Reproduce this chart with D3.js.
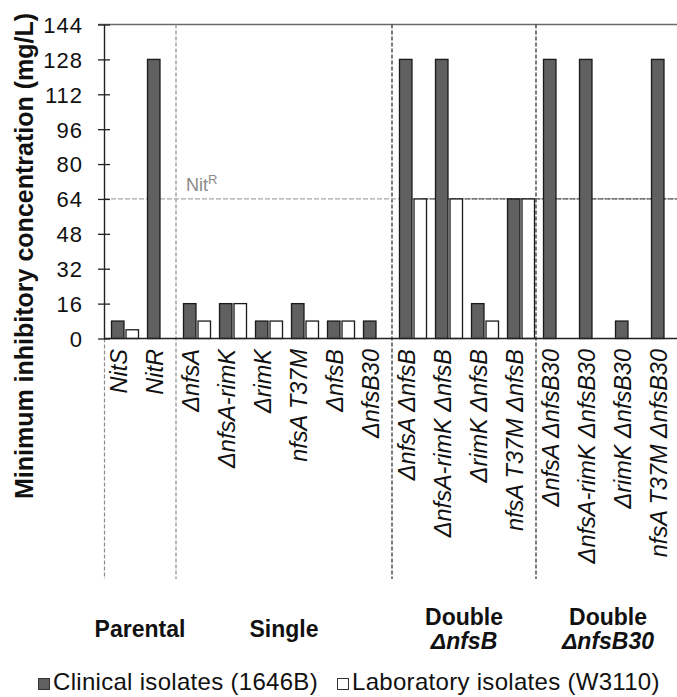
<!DOCTYPE html>
<html>
<head>
<meta charset="utf-8">
<script src="https://cdn.jsdelivr.net/npm/d3@7"></script>
<style>
  html, body { margin: 0; padding: 0; background: #fff; }
  svg { display: block; font-family: "Liberation Sans", Arial, sans-serif; }
</style>
</head>
<body>
<svg id="chart" width="677" height="697"></svg>
<script>
// Strains (one bar pair each)
const strains = [
  "NitS", "NitR",
  "ΔnfsA", "ΔnfsA-rimK", "ΔrimK", "nfsA T37M", "ΔnfsB", "ΔnfsB30",
  "ΔnfsA ΔnfsB", "ΔnfsA-rimK ΔnfsB", "ΔrimK ΔnfsB", "nfsA T37M ΔnfsB",
  "ΔnfsA ΔnfsB30", "ΔnfsA-rimK ΔnfsB30", "ΔrimK ΔnfsB30", "nfsA T37M ΔnfsB30"
];
// MIC values (mg/L)
const clinical = [8, 128, 16, 16, 8, 16, 8, 8, 128, 128, 16, 64, 128, 128, 8, 128];
const laboratory = [4, 0, 8, 16, 8, 8, 8, 0, 64, 64, 8, 64, 0, 0, 0, 0];
const seriesNames = ["Clinical isolates (1646B)", "Laboratory isolates (W3110)"];
// Strain groups: label lines and how many strains each covers
const groupLines = [["Parental"], ["Single"], ["Double", "ΔnfsB"], ["Double", "ΔnfsB30"]];
const groupSizes = [2, 6, 4, 4];
const yTicks = [0, 16, 32, 48, 64, 80, 96, 112, 128, 144];
const resistanceThreshold = 64;

const svg = d3.select("#chart");
const plotLeft = 104, plotRight = 680, plotTop = 24.5, plotBottom = 338.5, labelBottom = 579;

const x = d3.scaleBand().domain(strains).range([plotLeft, plotRight]).padding(0);
const xs = d3.scaleBand().domain(seriesNames).range([-10.5, 16.5]).paddingInner(0.14);
const y = d3.scaleLinear().domain([0, 144]).range([plotBottom, plotTop]);
const fills = ["#606060", "#ffffff"];

// top frame line
svg.append("line").attr("x1", plotLeft - 6).attr("x2", plotRight)
  .attr("y1", y(144)).attr("y2", y(144))
  .attr("stroke", "#6a6a6a").attr("stroke-width", 1.3);

// group separators
let acc = 0;
const sepX = [];
groupSizes.forEach((n, i) => {
  if (i > 0) sepX.push({ pos: x(strains[acc]), dark: i > 1 });
  acc += n;
});
sepX.forEach(s => {
  svg.append("line").attr("x1", s.pos).attr("x2", s.pos)
    .attr("y1", y(144)).attr("y2", labelBottom)
    .attr("stroke", s.dark ? "#222" : "#8c8c8c")
    .attr("stroke-width", 1.2)
    .attr("stroke-dasharray", "4,2");
});
// axis continuation below the plot
svg.append("line").attr("x1", plotLeft + 0.5).attr("x2", plotLeft + 0.5)
  .attr("y1", plotBottom).attr("y2", labelBottom)
  .attr("stroke", "#8c8c8c").attr("stroke-width", 1.2).attr("stroke-dasharray", "4,2");

// resistance threshold line
svg.append("line").attr("x1", plotLeft).attr("x2", plotRight)
  .attr("y1", y(resistanceThreshold)).attr("y2", y(resistanceThreshold))
  .attr("stroke", "#a8a8a8").attr("stroke-width", 1.2).attr("stroke-dasharray", "5,2");
svg.append("line").attr("x1", x(strains[8]) + 31).attr("x2", plotRight)
  .attr("y1", y(resistanceThreshold)).attr("y2", y(resistanceThreshold))
  .attr("stroke", "#555").attr("stroke-width", 1.2).attr("stroke-dasharray", "5,2");

const nit = svg.append("text").attr("x", 186).attr("y", 190.5)
  .attr("fill", "#8a8a8a").attr("font-size", 18);
nit.append("tspan").text("Nit");
nit.append("tspan").attr("font-size", 13).attr("dy", -7).text("R");

// bars
const rows = strains.map((s, i) => ({ s, vals: [clinical[i], laboratory[i]] }));
const g = svg.append("g");
rows.forEach(r => {
  r.vals.forEach((v, j) => {
    if (v <= 0) return;
    g.append("rect")
      .attr("x", x(r.s) + x.bandwidth() / 2 + xs(seriesNames[j]))
      .attr("y", y(v))
      .attr("width", xs.bandwidth())
      .attr("height", y(0) - y(v))
      .attr("fill", fills[j])
      .attr("stroke", "#1a1a1a").attr("stroke-width", 1.3);
  });
});

// x axis baseline
svg.append("line").attr("x1", plotLeft).attr("x2", plotRight)
  .attr("y1", plotBottom).attr("y2", plotBottom)
  .attr("stroke", "#222").attr("stroke-width", 1.4);

// y axis
const yAxis = d3.axisLeft(y).tickValues(yTicks).tickSize(6).tickSizeOuter(0).tickPadding(15);
const ya = svg.append("g").attr("transform", `translate(${plotLeft},0)`).call(yAxis);
ya.select(".domain").attr("stroke", "#222").attr("stroke-width", 1.4);
ya.selectAll(".tick line").attr("x2", -6).attr("x1", 6).attr("stroke", "#222").attr("stroke-width", 1.3);
ya.selectAll(".tick text").attr("font-size", 22).attr("fill", "#111")
  .attr("font-family", "Liberation Sans, Arial, sans-serif")
  .attr("letter-spacing", 1).attr("dy", "0.36em");

// strain labels (rotated)
svg.append("g").selectAll("text").data(strains).join("text")
  .attr("transform", d => `translate(${x(d) + x.bandwidth() / 2 + 5},${349}) rotate(-90)`)
  .attr("text-anchor", "end")
  .attr("font-size", 23.5).attr("font-style", "italic").attr("fill", "#111")
  .text(d => d);

// group labels
acc = 0;
groupLines.forEach((lines, i) => {
  const x0 = x(strains[acc]);
  const x1 = acc + groupSizes[i] < strains.length ? x(strains[acc + groupSizes[i]]) : plotRight;
  acc += groupSizes[i];
  const cx = (x0 + x1) / 2;
  const t = svg.append("text").attr("text-anchor", "middle")
    .attr("font-size", 23).attr("font-weight", "bold").attr("fill", "#111");
  if (lines.length === 1) {
    t.append("tspan").attr("x", cx).attr("y", 637).text(lines[0]);
  } else {
    t.append("tspan").attr("x", cx).attr("y", 625).text(lines[0]);
    t.append("tspan").attr("x", cx).attr("y", 649).attr("font-style", "italic").text(lines[1]);
  }
});

// y axis title
svg.append("text")
  .attr("transform", `translate(33,256) rotate(-90)`)
  .attr("text-anchor", "middle")
  .attr("font-size", 25).attr("font-weight", "bold").attr("fill", "#111")
  .text("Minimum inhibitory concentration (mg/L)");

// legend
const legendX = [38, 337];
seriesNames.forEach((name, j) => {
  svg.append("rect").attr("x", legendX[j] + 0.5).attr("y", 678.5)
    .attr("width", 11).attr("height", 11)
    .attr("fill", fills[j]).attr("stroke", "#333").attr("stroke-width", 1);
  svg.append("text").attr("x", legendX[j] + 15).attr("y", 690)
    .attr("font-size", 24).attr("fill", "#111").attr("letter-spacing", 0.3)
    .text(name);
});
</script>
</body>
</html>
